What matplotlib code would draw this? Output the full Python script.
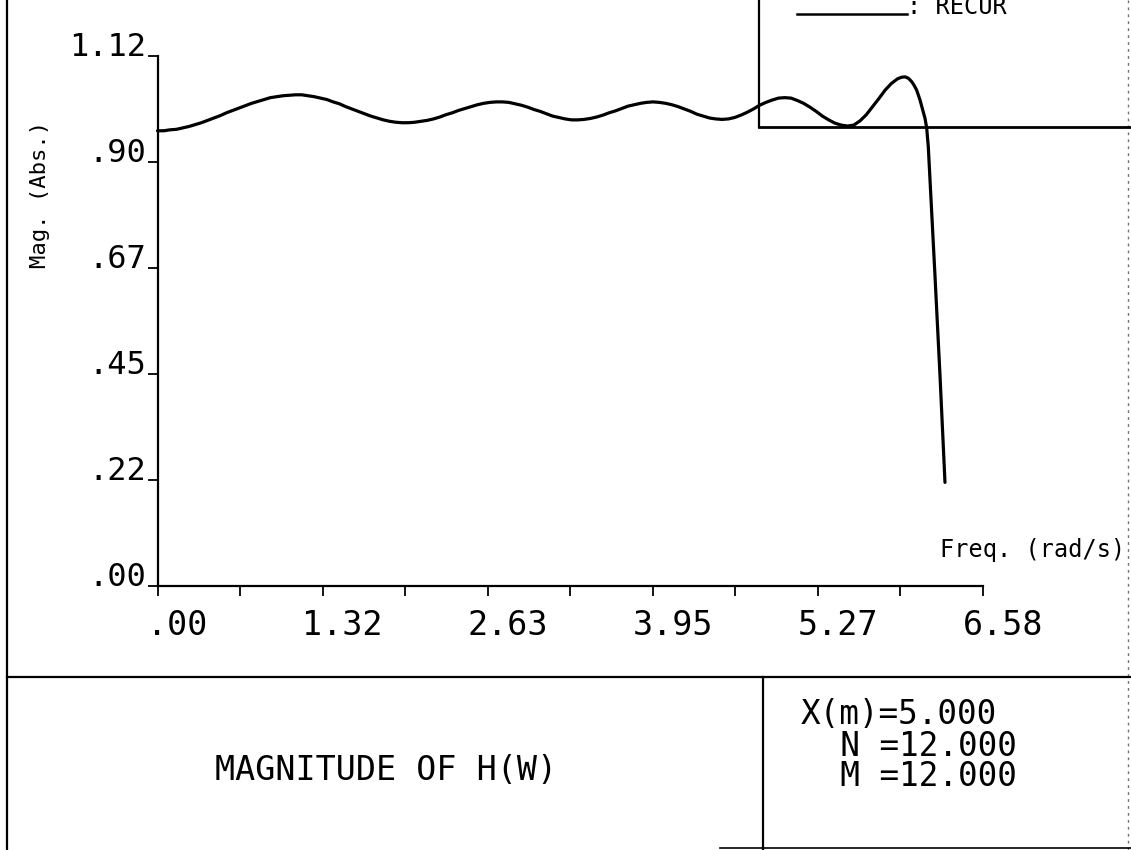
import matplotlib
matplotlib.use("Agg")
import matplotlib.pyplot as plt
from matplotlib.lines import Line2D
from matplotlib.transforms import ScaledTranslation

# Frequency response magnitude |H(w)| of the recursive design
freq = [0.00, 0.05, 0.10, 0.15, 0.20, 0.25, 0.30, 0.35, 0.40, 0.45,
        0.50, 0.55, 0.60, 0.65, 0.70, 0.75, 0.80, 0.85, 0.90, 0.95,
        1.00, 1.05, 1.10, 1.15, 1.20, 1.25, 1.30, 1.35, 1.40, 1.45,
        1.50, 1.55, 1.60, 1.65, 1.70, 1.75, 1.80, 1.85, 1.90, 1.95,
        2.00, 2.05, 2.10, 2.15, 2.20, 2.25, 2.30, 2.35, 2.40, 2.45,
        2.50, 2.55, 2.60, 2.65, 2.70, 2.75, 2.80, 2.85, 2.90, 2.95,
        3.00, 3.05, 3.10, 3.15, 3.20, 3.25, 3.30, 3.35, 3.40, 3.45,
        3.50, 3.55, 3.60, 3.65, 3.70, 3.75, 3.80, 3.85, 3.90, 3.95,
        4.00, 4.05, 4.10, 4.15, 4.20, 4.25, 4.30, 4.35, 4.40, 4.45,
        4.50, 4.55, 4.60, 4.65, 4.70, 4.75, 4.80, 4.85, 4.90, 4.95,
        5.00, 5.05, 5.10, 5.15, 5.20, 5.25, 5.30, 5.35, 5.40, 5.45,
        5.50, 5.55, 5.60, 5.65, 5.70, 5.75, 5.80, 5.85, 5.90, 5.93,
        5.958, 5.985, 6.011, 6.031, 6.051, 6.078, 6.104, 6.118, 6.131, 6.144,
        6.157, 6.177, 6.197, 6.217, 6.237, 6.257, 6.277]
mag = [0.962, 0.962, 0.964, 0.965, 0.968, 0.971, 0.975, 0.979, 0.984, 0.989,
       0.994, 1.000, 1.005, 1.010, 1.015, 1.020, 1.024, 1.028, 1.032, 1.034,
       1.036, 1.037, 1.038, 1.038, 1.036, 1.034, 1.031, 1.028, 1.023, 1.019,
       1.013, 1.008, 1.003, 0.998, 0.993, 0.989, 0.985, 0.982, 0.980, 0.979,
       0.979, 0.980, 0.982, 0.984, 0.987, 0.991, 0.996, 1.000, 1.005, 1.009,
       1.013, 1.017, 1.020, 1.022, 1.023, 1.023, 1.022, 1.019, 1.016, 1.012,
       1.007, 1.003, 0.998, 0.993, 0.990, 0.987, 0.985, 0.985, 0.986, 0.988,
       0.991, 0.995, 1.000, 1.004, 1.009, 1.014, 1.017, 1.020, 1.022, 1.023,
       1.022, 1.020, 1.017, 1.013, 1.008, 1.003, 0.997, 0.993, 0.989, 0.987,
       0.986, 0.987, 0.990, 0.995, 1.001, 1.008, 1.016, 1.022, 1.027, 1.031,
       1.032, 1.031, 1.026, 1.020, 1.012, 1.003, 0.993, 0.985, 0.978, 0.974,
       0.972, 0.974, 0.983, 0.996, 1.013, 1.030, 1.048, 1.062, 1.072, 1.075,
       1.076, 1.073, 1.066, 1.058, 1.048, 1.027, 1.002, 0.988, 0.968, 0.928,
       0.862, 0.757, 0.657, 0.552, 0.446, 0.334, 0.219]

x_ticks = [0.0, 1.316, 2.632, 3.948, 5.264, 6.58]
x_tick_labels = [".00", "1.32", "2.63", "3.95", "5.27", "6.58"]
x_minor_ticks = [0.658, 1.974, 3.29, 4.606, 5.922]
y_ticks = [0.0, 0.224, 0.448, 0.672, 0.896, 1.12]
y_tick_labels = [".00", ".22", ".45", ".67", ".90", "1.12"]

x_label = "Freq. (rad/s)"
y_label = "Mag. (Abs.)"
legend_label = ": RECUR"
title = "MAGNITUDE OF H(W)"
param_lines = ["X(m)=5.000", "  N =12.000", "  M =12.000"]

W, H = 1131, 850
MONO = "DejaVu Sans Mono"
LW = 1.6

fig = plt.figure(figsize=(W / 100, H / 100), dpi=100)
fig.patch.set_facecolor("white")


def fx(px):
    return px / W


def fy(py):
    return 1 - py / H


def fig_line(x0, y0, x1, y1, **kw):
    kw.setdefault("color", "black")
    kw.setdefault("lw", LW)
    fig.add_artist(Line2D([fx(x0), fx(x1)], [fy(y0), fy(y1)],
                          transform=fig.transFigure, **kw))


# plotting area
ax = fig.add_axes([fx(157.5), fy(586), (983 - 157.5) / W, (586 - 56) / H])
ax.set_facecolor("none")
ax.plot(freq, mag, color="black", lw=2.3, solid_joinstyle="round",
        solid_capstyle="round", clip_on=False)
ax.set_xlim(0, 6.58)
ax.set_ylim(0, 1.12)

for side in ("top", "right"):
    ax.spines[side].set_visible(False)
for side in ("left", "bottom"):
    ax.spines[side].set_linewidth(LW)

ax.set_xticks(x_ticks)
ax.set_xticklabels(x_tick_labels, family=MONO, fontsize=24)
ax.set_xticks(x_minor_ticks, minor=True)
ax.set_yticks(y_ticks)
ax.set_yticklabels(y_tick_labels, family=MONO, fontsize=23)
ax.tick_params(axis="x", which="both", direction="out", length=7.5,
               width=1.3, pad=9)
ax.tick_params(axis="y", which="both", direction="out", length=7.5,
               width=1.3, pad=1)

shift = ScaledTranslation(20 / 100, 0, fig.dpi_scale_trans)
for t in ax.xaxis.get_major_ticks():
    t.label1.set_transform(t.label1.get_transform() + shift)
for t in ax.yaxis.get_major_ticks():
    t.label1.set_verticalalignment("baseline")

ax.set_ylabel(y_label, family=MONO, fontsize=16, va="center")
ax.yaxis.set_label_coords(-0.142, 0.738)
ax.set_xlabel(x_label, family=MONO, fontsize=17, ha="left", va="baseline")
ax.xaxis.set_label_coords(0.948, 0.054)

# page frame
fig_line(7, 0, 7, H)
fig_line(1128, 0, 1128, H, color="0.45", lw=1.0, ls=(0, (2, 3)))
fig_line(7, 677, W, 677)
fig_line(763, 677, 763, H)
fig_line(720, 848, W, 848, lw=1.2)

# legend box in the upper right
fig_line(759, 0, 759, 127)
fig_line(759, 127, W, 127, lw=2.0)
fig_line(797, 14, 907, 14, lw=1.8)
fig.text(fx(907), fy(14), legend_label, family=MONO, fontsize=17,
         ha="left", va="baseline")

# caption block
fig.text(fx(386), fy(771), title, family=MONO, fontsize=24,
         ha="center", va="center")
for i, line in enumerate(param_lines):
    fig.text(fx(801), fy(715 + 31 * i), line, family=MONO, fontsize=23.5,
             ha="left", va="center")

fig.savefig("out.png", dpi=100, facecolor="white")
